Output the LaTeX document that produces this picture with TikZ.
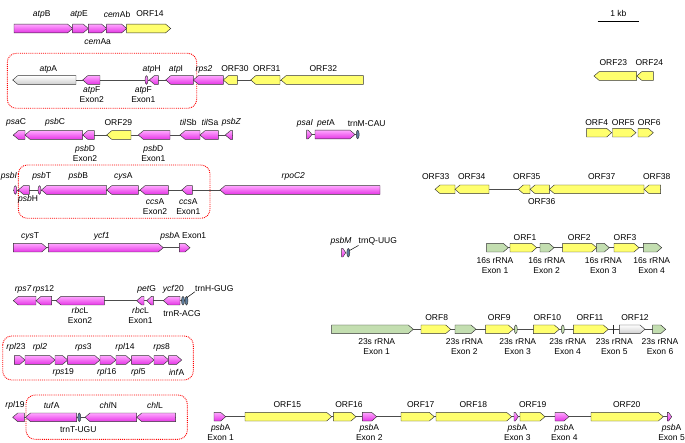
\documentclass[tikz,border=0pt]{standalone}
\usepackage{fontspec}
\setmainfont{Liberation Sans}
\definecolor{magT}{HTML}{FFA6FF}
\definecolor{magB}{HTML}{E535E5}
\definecolor{yelC}{HTML}{FFFF6E}
\definecolor{grnC}{HTML}{C3DEB0}
\definecolor{gryC}{HTML}{CFCFCF}
\definecolor{trnC}{HTML}{5F7E9E}
\tikzset{
 gene/.style={draw=black!80,line width=0.45pt,line join=miter},
 mag/.style={top color=magT,bottom color=magB},
 yel/.style={fill=yelC},
 grn/.style={fill=grnC},
 gry/.style={top color=white,bottom color=gryC},
 trn/.style={fill=trnC},
 link/.style={draw=black!70,line width=0.7pt},
 lab/.style={font=\fontsize{8.5}{10}\selectfont,inner sep=0pt,align=center},
 rbox/.style={draw=red,densely dotted,line width=0.9pt,rounded corners=9pt}
}
\newcommand\gR[4]{\pgfmathsetmacro\ghl{min(5,(#2-#1)*0.7)}\draw[gene,#4] (#1,{#3-4.3}) -- ({#2-\ghl},{#3-4.3}) -- (#2,#3) -- ({#2-\ghl},{#3+4.3}) -- (#1,{#3+4.3}) -- cycle;}
\newcommand\gL[4]{\pgfmathsetmacro\ghl{min(5,(#2-#1)*0.7)}\draw[gene,#4] (#2,{#3-4.3}) -- ({#1+\ghl},{#3-4.3}) -- (#1,#3) -- ({#1+\ghl},{#3+4.3}) -- (#2,{#3+4.3}) -- cycle;}
\newcommand\gT[3]{\draw[gene,#3] (#1,#2) ellipse [x radius=1.5pt,y radius=4.3pt];}
\begin{document}
\begin{tikzpicture}[x=1pt,y=-1pt]
\useasboundingbox[fill=white] (0,0) rectangle (685,443);
% ---------- red boxes
\draw[rbox] (7.3,53.3) rectangle (196.7,108.3);
\draw[rbox] (18.3,165) rectangle (210,218.3);
\draw[rbox] (2.7,336) rectangle (193.3,380);
\draw[rbox] (26,395) rectangle (187.3,439.3);
% ---------- scale bar
\coordinate (sbA) at (597.7,21.7);
\coordinate (sbB) at (639,21.7);
\draw[line width=1pt] (sbA) -- (sbB);
\node[lab] (kb) at (618.3,13) {1 kb};
% ---------- row 1
\gR{14}{72.7}{28.5}{mag}
\gR{72.7}{88.3}{28.5}{mag}
\gR{88.3}{106.7}{28.5}{mag}
\gR{106.7}{126.7}{28.5}{mag}
\gR{126.7}{170.7}{28.5}{yel}
\node[lab] (atpB) at (41.7,14) {\textit{atp}B};
\node[lab] (atpE) at (79,14) {\textit{atp}E};
\node[lab] (cemAb) at (117,14) {\textit{cem}Ab};
\node[lab] (orf14) at (150,14) {ORF14};
\node[lab] (cemAa) at (97.7,41.7) {\textit{cem}Aa};
% ---------- row 2
\draw[link] (12.7,80) -- (363,80);
\gL{12.7}{76}{80}{gry}
\gL{82.7}{100}{80}{mag}
\gT{146.5}{80}{mag}
\gL{149.3}{158.3}{80}{mag}
\gL{165.7}{193.3}{80}{mag}
\gL{193.3}{223.3}{80}{mag}
\gL{223.3}{237.3}{80}{yel}
\gL{250.7}{280}{80}{yel}
\gL{281}{363.3}{80}{yel}
\node[lab] (atpA) at (48.3,69) {\textit{atp}A};
\node[lab] (atpF2) at (91.7,94.7) {\textit{atp}F\\Exon2};
\node[lab] (atpF1) at (143.3,94.7) {\textit{atp}F\\Exon1};
\node[lab] (atpH) at (151.7,69) {\textit{atp}H};
\node[lab] (atpI) at (176,69) {\textit{atp}I};
\node[lab] (rps2) at (204,69) {\textit{rps2}};
\node[lab] (orf30) at (235,69) {ORF30};
\node[lab] (orf31) at (266.7,69) {ORF31};
\node[lab] (orf32) at (323.3,69) {ORF32};
% ---------- ORF23/24, ORF4-6
\gL{594}{636.7}{76}{yel}
\gL{636.7}{653.3}{76}{yel}
\node[lab] (orf23) at (613.3,62.3) {ORF23};
\node[lab] (orf24) at (649.3,62.3) {ORF24};
\gR{586.7}{611.7}{132.7}{yel}
\gR{612.5}{636}{132.7}{yel}
\gR{638}{653.3}{132.7}{yel}
\node[lab] (orf4) at (596.7,122.7) {ORF4};
\node[lab] (orf5) at (623.3,122.7) {ORF5};
\node[lab] (orf6) at (649.3,122.7) {ORF6};
% ---------- row 3
\draw[link] (13.3,135) -- (232.7,135);
\gL{13.3}{25}{135}{mag}
\gL{25}{82.7}{135}{mag}
\gL{82.7}{94.3}{135}{mag}
\gL{106.7}{131}{135}{yel}
\gL{138.3}{170}{135}{mag}
\gL{180}{200}{135}{mag}
\gL{200}{218.3}{135}{mag}
\gL{225.3}{232.7}{135}{mag}
\node[lab] (psaC) at (16,122.7) {\textit{psa}C};
\node[lab] (psbC) at (55,122.7) {\textit{psb}C};
\node[lab] (orf29) at (118.3,122.7) {ORF29};
\node[lab] (tilSb) at (188.3,122.7) {\textit{til}Sb};
\node[lab] (tilSa) at (210,122.7) {\textit{til}Sa};
\node[lab] (psbZ) at (231.5,122.7) {\textit{psbZ}};
\node[lab] (psbD2) at (85,153.8) {\textit{psb}D\\Exon2};
\node[lab] (psbD1) at (153.3,153.8) {\textit{psb}D\\Exon1};
\draw[link] (306.7,134.5) -- (357,134.5);
\gR{306.7}{312}{134.5}{mag}
\gR{315}{355}{134.5}{mag}
\gT{357.7}{134.5}{trn}
\node[lab] (psaI) at (305,123.3) {\textit{psaI}};
\node[lab] (petA) at (326,123.3) {\textit{pet}A};
\node[lab] (trnM) at (366.7,123.3) {trnM-CAU};
% ---------- row 4
\draw[link] (13.3,190) -- (380,190);
\gT{15.3}{190}{mag}
\gL{18.3}{29.3}{190}{mag}
\gT{39.5}{190}{mag}
\gL{41.5}{106.7}{190}{mag}
\gL{106.7}{138.3}{190}{mag}
\gL{140}{168.3}{190}{mag}
\gL{181.7}{192.3}{190}{mag}
\gL{220}{380}{190}{mag}
\node[lab] (psbI) at (9,176.7) {\textit{psbI}};
\node[lab] (psbT) at (41.7,176.7) {\textit{psb}T};
\node[lab] (psbB) at (78.3,176.7) {\textit{psb}B};
\node[lab] (cysA) at (123.3,176.7) {\textit{cys}A};
\node[lab] (rpoC2) at (293.3,176.7) {\textit{rpoC2}};
\node[lab] (psbH) at (28,199.3) {\textit{psb}H};
\node[lab] (ccsA2) at (155,206.7) {\textit{ccs}A\\Exon2};
\node[lab] (ccsA1) at (188.3,206.7) {\textit{ccs}A\\Exon1};
% ---------- ORF33-38
\draw[link] (435,189.3) -- (660.7,189.3);
\gL{435}{455}{189.3}{yel}
\gL{455}{489}{189.3}{yel}
\gL{518.3}{530}{189.3}{yel}
\gL{530}{549.3}{189.3}{yel}
\gL{549.3}{644}{189.3}{yel}
\gL{644}{660.7}{189.3}{yel}
\node[lab] (orf33) at (435.7,176.7) {ORF33};
\node[lab] (orf34) at (471.7,176.7) {ORF34};
\node[lab] (orf35) at (526.7,176.7) {ORF35};
\node[lab] (orf37) at (601.7,176.7) {ORF37};
\node[lab] (orf38) at (656.7,176.7) {ORF38};
\node[lab] (orf36) at (541.7,201.7) {ORF36};
% ---------- row 5
\draw[link] (13.3,247.7) -- (190,247.7);
\gR{13.3}{46.7}{247.7}{mag}
\gR{48.3}{163.3}{247.7}{mag}
\gR{179.3}{190}{247.7}{mag}
\node[lab] (cysT) at (30,236) {\textit{cys}T};
\node[lab] (ycf1) at (101.7,236) {\textit{ycf1}};
\node[lab] (psbAe1) at (183.3,236) {\textit{psb}A Exon1};
% psbM
\gR{341.7}{345.7}{252.7}{mag}
\gT{348.3}{252.7}{trn}
\node[lab] (psbM) at (341,241.5) {\textit{psbM}};
\node[lab,anchor=west] (trnQ) at (358.5,241.5) {trnQ-UUG};
\coordinate (trnQa) at (349.5,250.5);
\draw[line width=0.5pt] (trnQa) -- (trnQ.south west);
% ---------- 16s row
\draw[link] (486.7,247.7) -- (661.7,247.7);
\gR{486.7}{508.3}{247.7}{grn}
\gR{510}{536.7}{247.7}{yel}
\gR{540}{554}{247.7}{grn}
\gR{562.7}{596.7}{247.7}{yel}
\gR{596.7}{609.3}{247.7}{grn}
\gR{614}{639}{247.7}{yel}
\gR{643.3}{661.7}{247.7}{grn}
\node[lab] (orf1) at (525,237.3) {ORF1};
\node[lab] (orf2) at (579.3,237.3) {ORF2};
\node[lab] (orf3) at (625,237.3) {ORF3};
\node[lab] (s16a) at (495,265.7) {16s rRNA\\Exon 1};
\node[lab] (s16b) at (546.7,265.7) {16s rRNA\\Exon 2};
\node[lab] (s16c) at (603.3,265.7) {16s rRNA\\Exon 3};
\node[lab] (s16d) at (651.7,265.7) {16s rRNA\\Exon 4};
% ---------- row 6
\draw[link] (13.3,300.7) -- (188,300.7);
\gL{13.3}{36}{300.7}{mag}
\gL{36}{51.7}{300.7}{mag}
\gL{56}{104.3}{300.7}{mag}
\gL{136.7}{144}{300.7}{mag}
\gL{146.7}{153.3}{300.7}{mag}
\gL{163.3}{180}{300.7}{mag}
\gT{183}{300.7}{trn}
\gT{186.5}{300.7}{trn}
\node[lab] (rps7) at (23.3,289.3) {\textit{rps7}};
\node[lab] (rps12) at (43.5,289.3) {\textit{rps}12};
\node[lab] (petG) at (146.7,289.3) {\textit{pet}G};
\node[lab] (ycf20) at (173.3,289.3) {\textit{ycf}20};
\node[lab,anchor=west] (trnH) at (195,288.5) {trnH-GUG};
\coordinate (trnHa) at (187,297.5);
\draw[line width=0.5pt] (trnHa) -- (trnH.south west);
\node[lab] (rbcL2) at (80,315) {\textit{rbc}L\\Exon2};
\node[lab] (rbcL1) at (140.5,315) {\textit{rbc}L\\Exon1};
\node[lab] (trnR) at (182,313.8) {trnR-ACG};
% ---------- 23s row
\draw[link] (331.7,329.3) -- (665.7,329.3);
\gR{331.7}{413.3}{329.3}{grn}
\gR{421}{450.7}{329.3}{yel}
\gR{455}{476}{329.3}{grn}
\gR{485.7}{513.3}{329.3}{yel}
\gT{515.8}{329.3}{grn}
\gR{533.3}{559.3}{329.3}{yel}
\gT{562.8}{329.3}{grn}
\gR{573.3}{608.3}{329.3}{yel}
\draw[line width=1.2pt,black!85] (613.3,325) -- (613.3,333.6);
\gR{619.3}{645}{329.3}{gry}
\gR{652.7}{665.7}{329.3}{grn}
\node[lab] (orf8) at (436.7,317.7) {ORF8};
\node[lab] (orf9) at (499.3,317.7) {ORF9};
\node[lab] (orf10) at (547.3,317.7) {ORF10};
\node[lab] (orf11) at (590,317.7) {ORF11};
\node[lab] (orf12) at (635,317.7) {ORF12};
\node[lab] (s23a) at (376.7,346.7) {23s rRNA\\Exon 1};
\node[lab] (s23b) at (464.3,346.7) {23s rRNA\\Exon 2};
\node[lab] (s23c) at (517.7,346.7) {23s rRNA\\Exon 3};
\node[lab] (s23d) at (567.7,346.7) {23s rRNA\\Exon 4};
\node[lab] (s23e) at (614.3,346.7) {23s rRNA\\Exon 5};
\node[lab] (s23f) at (660,346.7) {23s rRNA\\Exon 6};
% ---------- row 7
\gR{14.3}{25}{360}{mag}
\gR{25}{55}{360}{mag}
\gR{55}{67.7}{360}{mag}
\gR{67.7}{100}{360}{mag}
\gR{100}{116}{360}{mag}
\gR{116}{131}{360}{mag}
\gR{131.7}{154}{360}{mag}
\gR{154}{168.7}{360}{mag}
\gR{168.7}{181.7}{360}{mag}
\node[lab] (rpl23) at (16,347.3) {\textit{rpl}23};
\node[lab] (rpl2) at (40,347.3) {\textit{rpl2}};
\node[lab] (rps3) at (83.3,347.3) {\textit{rps}3};
\node[lab] (rpl14) at (125,347.3) {\textit{rpl}14};
\node[lab] (rps8) at (161.7,347.3) {\textit{rps}8};
\node[lab] (rps19) at (63.3,372.7) {\textit{rps}19};
\node[lab] (rpl16) at (106.7,372.7) {\textit{rpl}16};
\node[lab] (rpl5) at (138.3,372.7) {\textit{rpl}5};
\node[lab] (infA) at (176.7,372.7) {\textit{inf}A};
% ---------- row 8 left
\draw[link] (12.7,417.3) -- (175.7,417.3);
\gL{12.7}{24.3}{417.3}{mag}
\gL{25.5}{76.7}{417.3}{mag}
\gT{79.3}{417.3}{trn}
\gL{85}{136.7}{417.3}{mag}
\gL{136.7}{175.7}{417.3}{mag}
\node[lab] (rpl19) at (15,405) {\textit{rpl}19};
\node[lab] (tufA) at (51.7,405) {\textit{tuf}A};
\node[lab] (chlN) at (108.3,405) {\textit{chl}N};
\node[lab] (chlL) at (155,405) {\textit{chl}L};
\node[lab] (trnT) at (78.3,430) {trnT-UGU};
% ---------- row 8 right
\draw[link] (214,416.7) -- (671.7,416.7);
\gR{214}{225.7}{416.7}{mag}
\gR{245}{331.7}{416.7}{yel}
\gR{333.3}{356}{416.7}{yel}
\gR{362.3}{376.7}{416.7}{mag}
\gR{401}{434.3}{416.7}{yel}
\gR{436}{511.7}{416.7}{yel}
\gR{514}{518.3}{416.7}{mag}
\gR{520}{545}{416.7}{yel}
\gR{555}{569}{416.7}{mag}
\gR{591}{663.3}{416.7}{yel}
\gR{667.3}{671.7}{416.7}{mag}
\node[lab] (orf15) at (287.3,405) {ORF15};
\node[lab] (orf16) at (349,405) {ORF16};
\node[lab] (orf17) at (420.7,405) {ORF17};
\node[lab] (orf18) at (473.3,405) {ORF18};
\node[lab] (orf19) at (532.7,405) {ORF19};
\node[lab] (orf20) at (626.7,405) {ORF20};
\node[lab] (pA1) at (220.7,432.5) {\textit{psb}A\\Exon 1};
\node[lab] (pA2) at (369.3,432.5) {\textit{psb}A\\Exon 2};
\node[lab] (pA3) at (517.3,432.5) {\textit{psb}A\\Exon 3};
\node[lab] (pA4) at (564.3,432.5) {\textit{psb}A\\Exon 4};
\node[lab] (pA5) at (671.5,432.5) {\textit{psb}A\\Exon 5};
\end{tikzpicture}
\end{document}
